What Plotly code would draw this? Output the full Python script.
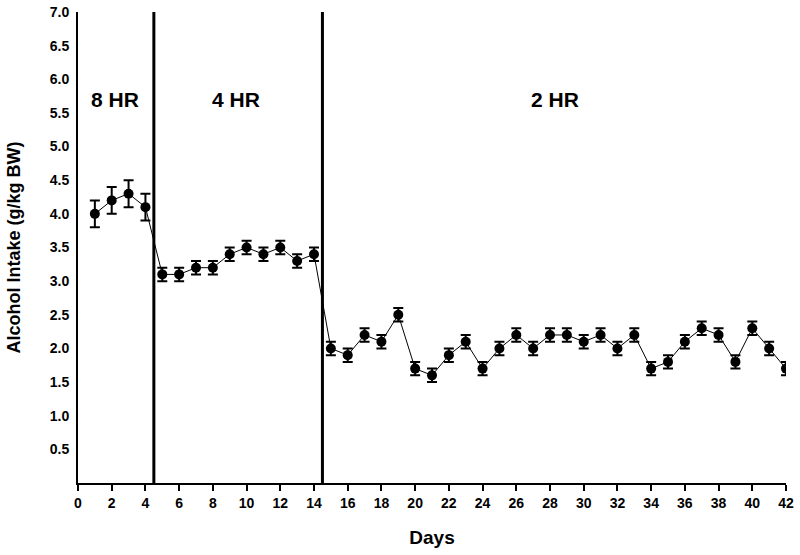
import plotly.graph_objects as go

days = list(range(1, 43))
intake = [4.0, 4.2, 4.3, 4.1,
          3.1, 3.1, 3.2, 3.2, 3.4, 3.5, 3.4, 3.5, 3.3, 3.4,
          2.0, 1.9, 2.2, 2.1, 2.5, 1.7, 1.6, 1.9, 2.1, 1.7, 2.0, 2.2, 2.0, 2.2,
          2.2, 2.1, 2.2, 2.0, 2.2, 1.7, 1.8, 2.1, 2.3, 2.2, 1.8, 2.3, 2.0, 1.7]
sem = [0.2, 0.2, 0.2, 0.2] + [0.1] * 10 + [0.1] * 28

phase_bounds = [4.5, 14.5]
phase_labels = ["8 HR", "4 HR", "2 HR"]
phase_label_x = [2.2, 9.4, 28.3]
phase_label_y = 5.7

y_ticks = [0.5, 1.0, 1.5, 2.0, 2.5, 3.0, 3.5, 4.0, 4.5, 5.0, 5.5, 6.0, 6.5, 7.0]
x_ticks = list(range(0, 43, 2))

font_family = "Liberation Sans, Arial, sans-serif"

fig = go.Figure()
fig.add_trace(go.Scatter(
    x=days, y=intake, mode="lines+markers",
    line=dict(color="black", width=1),
    marker=dict(color="black", size=10),
    error_y=dict(type="data", array=sem, visible=True, color="black", thickness=2, width=5),
    showlegend=False,
))

for b in phase_bounds:
    fig.add_shape(type="line", x0=b, x1=b, y0=0, y1=7, xref="x", yref="y",
                  line=dict(color="black", width=3))

for lab, lx in zip(phase_labels, phase_label_x):
    fig.add_annotation(x=lx, y=phase_label_y, text="<b>%s</b>" % lab, showarrow=False,
                       font=dict(size=21, color="black", family=font_family))

fig.update_xaxes(range=[0, 42], tickvals=x_ticks, ticktext=["<b>%d</b>" % t for t in x_ticks],
                 showline=True, linecolor="black", linewidth=2, ticks="outside",
                 ticklen=6, tickwidth=2, tickcolor="black", showgrid=False, zeroline=False,
                 automargin=False,
                 tickfont=dict(size=14, color="black", family=font_family),
                 title=dict(text="<b>Days</b>", font=dict(size=19, color="black", family=font_family),
                            standoff=21))
fig.update_yaxes(range=[0, 7], tickvals=y_ticks, ticktext=["<b>%.1f</b>" % t for t in y_ticks],
                 showline=True, linecolor="black", linewidth=2, ticks="outside",
                 ticklen=4, tickcolor="rgba(0,0,0,0)",
                 showgrid=False, zeroline=False, automargin=False,
                 tickfont=dict(size=14, color="black", family=font_family),
                 title=dict(text="<b>Alcohol Intake (g/kg BW)</b>",
                            font=dict(size=18, color="black", family=font_family), standoff=24))

fig.update_layout(width=800, height=555, plot_bgcolor="white", paper_bgcolor="white",
                  margin=dict(l=78, r=14, t=12, b=72))

fig.write_html("out.html", config={"displayModeBar": False},
               post_script="document.body.style.margin='0';document.body.style.overflow='hidden';")
